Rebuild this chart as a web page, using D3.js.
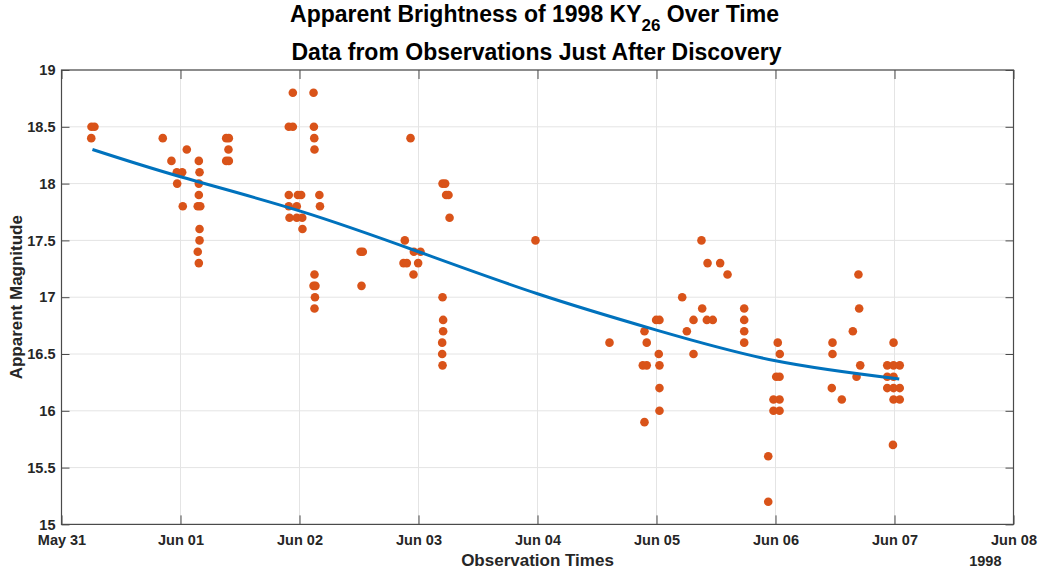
<!DOCTYPE html>
<html>
<head>
<meta charset="utf-8">
<script src="https://cdn.jsdelivr.net/npm/d3@7"></script>
<style>
  body { margin: 0; background: #fff; }
  text { font-family: "Liberation Sans", Arial, sans-serif; }
  .axisBox path { display: none; }
  .axisBox line { stroke: #4a4a4a; }
  .axisBox text { font-size: 14.5px; font-weight: bold; fill: #262626; }
  .grid line { stroke: #e4e4e4; stroke-width: 1; }
</style>
</head>
<body>
<svg id="chart"></svg>
<script>

// observation times, in days after 1998-05-31 00:00 UT
var obsDays = [
  0.252, 0.277, 0.250, 0.851, 0.924, 0.969, 1.014, 0.972, 1.053, 1.019,
  1.154, 1.160, 1.154, 1.154, 1.145, 1.166, 1.160, 1.160, 1.145, 1.154,
  1.384, 1.406, 1.403, 1.384, 1.406,
  1.944, 2.118, 1.910, 1.944, 2.121, 2.124, 2.126, 1.910, 1.986, 2.014,
  2.167, 1.910, 1.977, 2.172, 1.916, 1.977, 2.023, 2.025, 2.126, 2.118,
  2.134, 2.130, 2.126, 2.513, 2.532, 2.521,
  2.885, 2.961, 3.017, 2.874, 2.902, 2.997, 2.958, 2.933, 3.202, 3.224,
  3.232, 3.252, 3.261, 3.202, 3.207, 3.207, 3.199, 3.199, 3.202, 3.983,
  4.605,
  4.885, 4.918, 4.899, 4.918, 4.899, 4.997, 5.025, 5.019, 5.025, 5.025,
  5.025, 5.216, 5.255, 5.311, 5.311, 5.378, 5.384, 5.423, 5.473, 5.429,
  5.535, 5.597, 5.737, 5.737, 5.737, 5.737,
  5.939, 5.939, 5.983, 6.034, 5.983, 6.034, 6.006, 6.034, 6.019, 6.036,
  6.479, 6.479, 6.473, 6.557, 6.650, 6.681, 6.697, 6.703, 6.712,
  6.939, 6.992, 7.044, 6.939, 6.992, 6.939, 6.992, 7.044, 6.992, 7.044,
  6.992, 6.987
];

// apparent magnitude of each observation
var obsMags = [
  18.5, 18.5, 18.4, 18.4, 18.2, 18.1, 18.1, 18.0, 18.3, 17.8,
  18.2, 18.1, 18.0, 17.9, 17.8, 17.8, 17.6, 17.5, 17.4, 17.3,
  18.4, 18.4, 18.3, 18.2, 18.2,
  18.8, 18.8, 18.5, 18.5, 18.5, 18.4, 18.3, 17.9, 17.9, 17.9,
  17.9, 17.8, 17.8, 17.8, 17.7, 17.7, 17.7, 17.6, 17.2, 17.1,
  17.1, 17.0, 16.9, 17.4, 17.4, 17.1,
  17.5, 17.4, 17.4, 17.3, 17.3, 17.3, 17.2, 18.4, 18.0, 18.0,
  17.9, 17.9, 17.7, 17.0, 16.8, 16.7, 16.6, 16.5, 16.4, 17.5,
  16.6,
  16.4, 16.4, 16.7, 16.6, 15.9, 16.8, 16.8, 16.5, 16.4, 16.2,
  16.0, 17.0, 16.7, 16.8, 16.5, 17.5, 16.9, 16.8, 16.8, 17.3,
  17.3, 17.2, 16.9, 16.8, 16.7, 16.6,
  15.6, 15.2, 16.1, 16.1, 16.0, 16.0, 16.3, 16.3, 16.6, 16.5,
  16.6, 16.5, 16.2, 16.1, 16.7, 16.3, 17.2, 16.9, 16.4,
  16.4, 16.4, 16.4, 16.3, 16.3, 16.2, 16.2, 16.2, 16.1, 16.1,
  16.6, 15.7
];

// trend curve
var fitDays = [0.26, 1, 2, 3, 4, 5, 6, 7.04];
var fitMags = [18.30, 18.06, 17.76, 17.40, 17.03, 16.71, 16.44, 16.28];

var yTicks = [15, 15.5, 16, 16.5, 17, 17.5, 18, 18.5, 19];

var startTime = Date.UTC(1998, 4, 31);
var endTime = Date.UTC(1998, 5, 8);

function dayToDate(d){
  return new Date(startTime + d * 86400000);
}

/************************************************************************************************************/

var svg = d3.select("#chart").attr("width", 1042).attr("height", 576);
svg.margin = {top: 70, right: 28.5, bottom: 51.6, left: 61.5};
svg.width = 1042 - svg.margin.left - svg.margin.right;
svg.height = 576 - svg.margin.top - svg.margin.bottom;

svg.x = d3.scaleUtc().domain([new Date(startTime), new Date(endTime)]).range([0, svg.width]);
svg.y = d3.scaleLinear().domain([15, 19]).range([svg.height, 0]);

var g = svg.append("g").attr("transform", "translate(" + [svg.margin.left, svg.margin.top] + ")");

var dayTicks = d3.utcDay.range(new Date(startTime), new Date(endTime + 1));

//grid
var grid = g.append("g").classed("grid", true);
grid.selectAll(".gx").data(dayTicks).enter().append("line").classed("gx", true)
  .attr("x1", function(d){ return svg.x(d); }).attr("x2", function(d){ return svg.x(d); })
  .attr("y1", 0).attr("y2", svg.height);
grid.selectAll(".gy").data(yTicks).enter().append("line").classed("gy", true)
  .attr("y1", function(d){ return svg.y(d); }).attr("y2", function(d){ return svg.y(d); })
  .attr("x1", 0).attr("x2", svg.width);

//points
g.append("g").selectAll("circle").data(obsDays).enter().append("circle")
  .attr("cx", function(d){ return svg.x(dayToDate(d)); })
  .attr("cy", function(d, i){ return svg.y(obsMags[i]); })
  .attr("r", 4.3)
  .attr("fill", "#D95319");

//trend
var valueline = d3.line().curve(d3.curveNatural)
  .x(function(d){ return svg.x(dayToDate(d)); })
  .y(function(d, i){ return svg.y(fitMags[i]); });

g.append("path").datum(fitDays)
  .attr("d", valueline)
  .attr("fill", "none")
  .attr("stroke", "#0072BD")
  .attr("stroke-width", 3);

//axes
var fmt = d3.utcFormat("%b %d");

g.append("g").classed("axisBox", true)
  .attr("transform", "translate(0," + svg.height + ")")
  .call(d3.axisBottom(svg.x).tickValues(dayTicks).tickFormat(fmt).tickSizeInner(-9).tickSizeOuter(0).tickPadding(10));

g.append("g").classed("axisBox", true)
  .call(d3.axisTop(svg.x).tickValues(dayTicks).tickFormat("").tickSizeInner(-9).tickSizeOuter(0));

g.append("g").classed("axisBox", true)
  .call(d3.axisLeft(svg.y).tickValues(yTicks).tickFormat(function(d){ return d; }).tickSizeInner(-8).tickSizeOuter(0).tickPadding(6));

g.append("g").classed("axisBox", true)
  .attr("transform", "translate(" + svg.width + ",0)")
  .call(d3.axisRight(svg.y).tickValues(yTicks).tickFormat("").tickSizeInner(-8).tickSizeOuter(0));

g.append("rect")
  .attr("x", 0).attr("y", 0).attr("width", svg.width).attr("height", svg.height)
  .attr("fill", "none").attr("stroke", "#4a4a4a").attr("stroke-width", 1.2);

//labels
g.append("text")
  .attr("x", svg.width / 2).attr("y", svg.height + 42)
  .attr("text-anchor", "middle").attr("font-size", 17).attr("font-weight", "bold").attr("fill", "#262626")
  .text("Observation Times");

g.append("text")
  .attr("x", svg.width - 12).attr("y", svg.height + 42)
  .attr("text-anchor", "end").attr("font-size", 14.5).attr("font-weight", "bold").attr("fill", "#262626")
  .text("1998");

svg.append("text")
  .attr("transform", "translate(22," + (svg.margin.top + svg.height / 2) + ") rotate(-90)")
  .attr("text-anchor", "middle").attr("font-size", 17).attr("font-weight", "bold").attr("fill", "#262626")
  .text("Apparent Magnitude");

var title = svg.append("text")
  .attr("x", svg.margin.left + svg.width / 2 - 3).attr("y", 22)
  .attr("text-anchor", "middle").attr("font-size", 23).attr("font-weight", "bold").attr("fill", "#000");
title.append("tspan").text("Apparent Brightness of 1998 KY");
title.append("tspan").attr("font-size", 17).attr("dy", 9).text("26");
title.append("tspan").attr("dy", -9).text(" Over Time");

svg.append("text")
  .attr("x", svg.margin.left + svg.width / 2 - 1).attr("y", 60)
  .attr("text-anchor", "middle").attr("font-size", 23).attr("font-weight", "bold").attr("fill", "#000")
  .text("Data from Observations Just After Discovery");

</script>
</body>
</html>
